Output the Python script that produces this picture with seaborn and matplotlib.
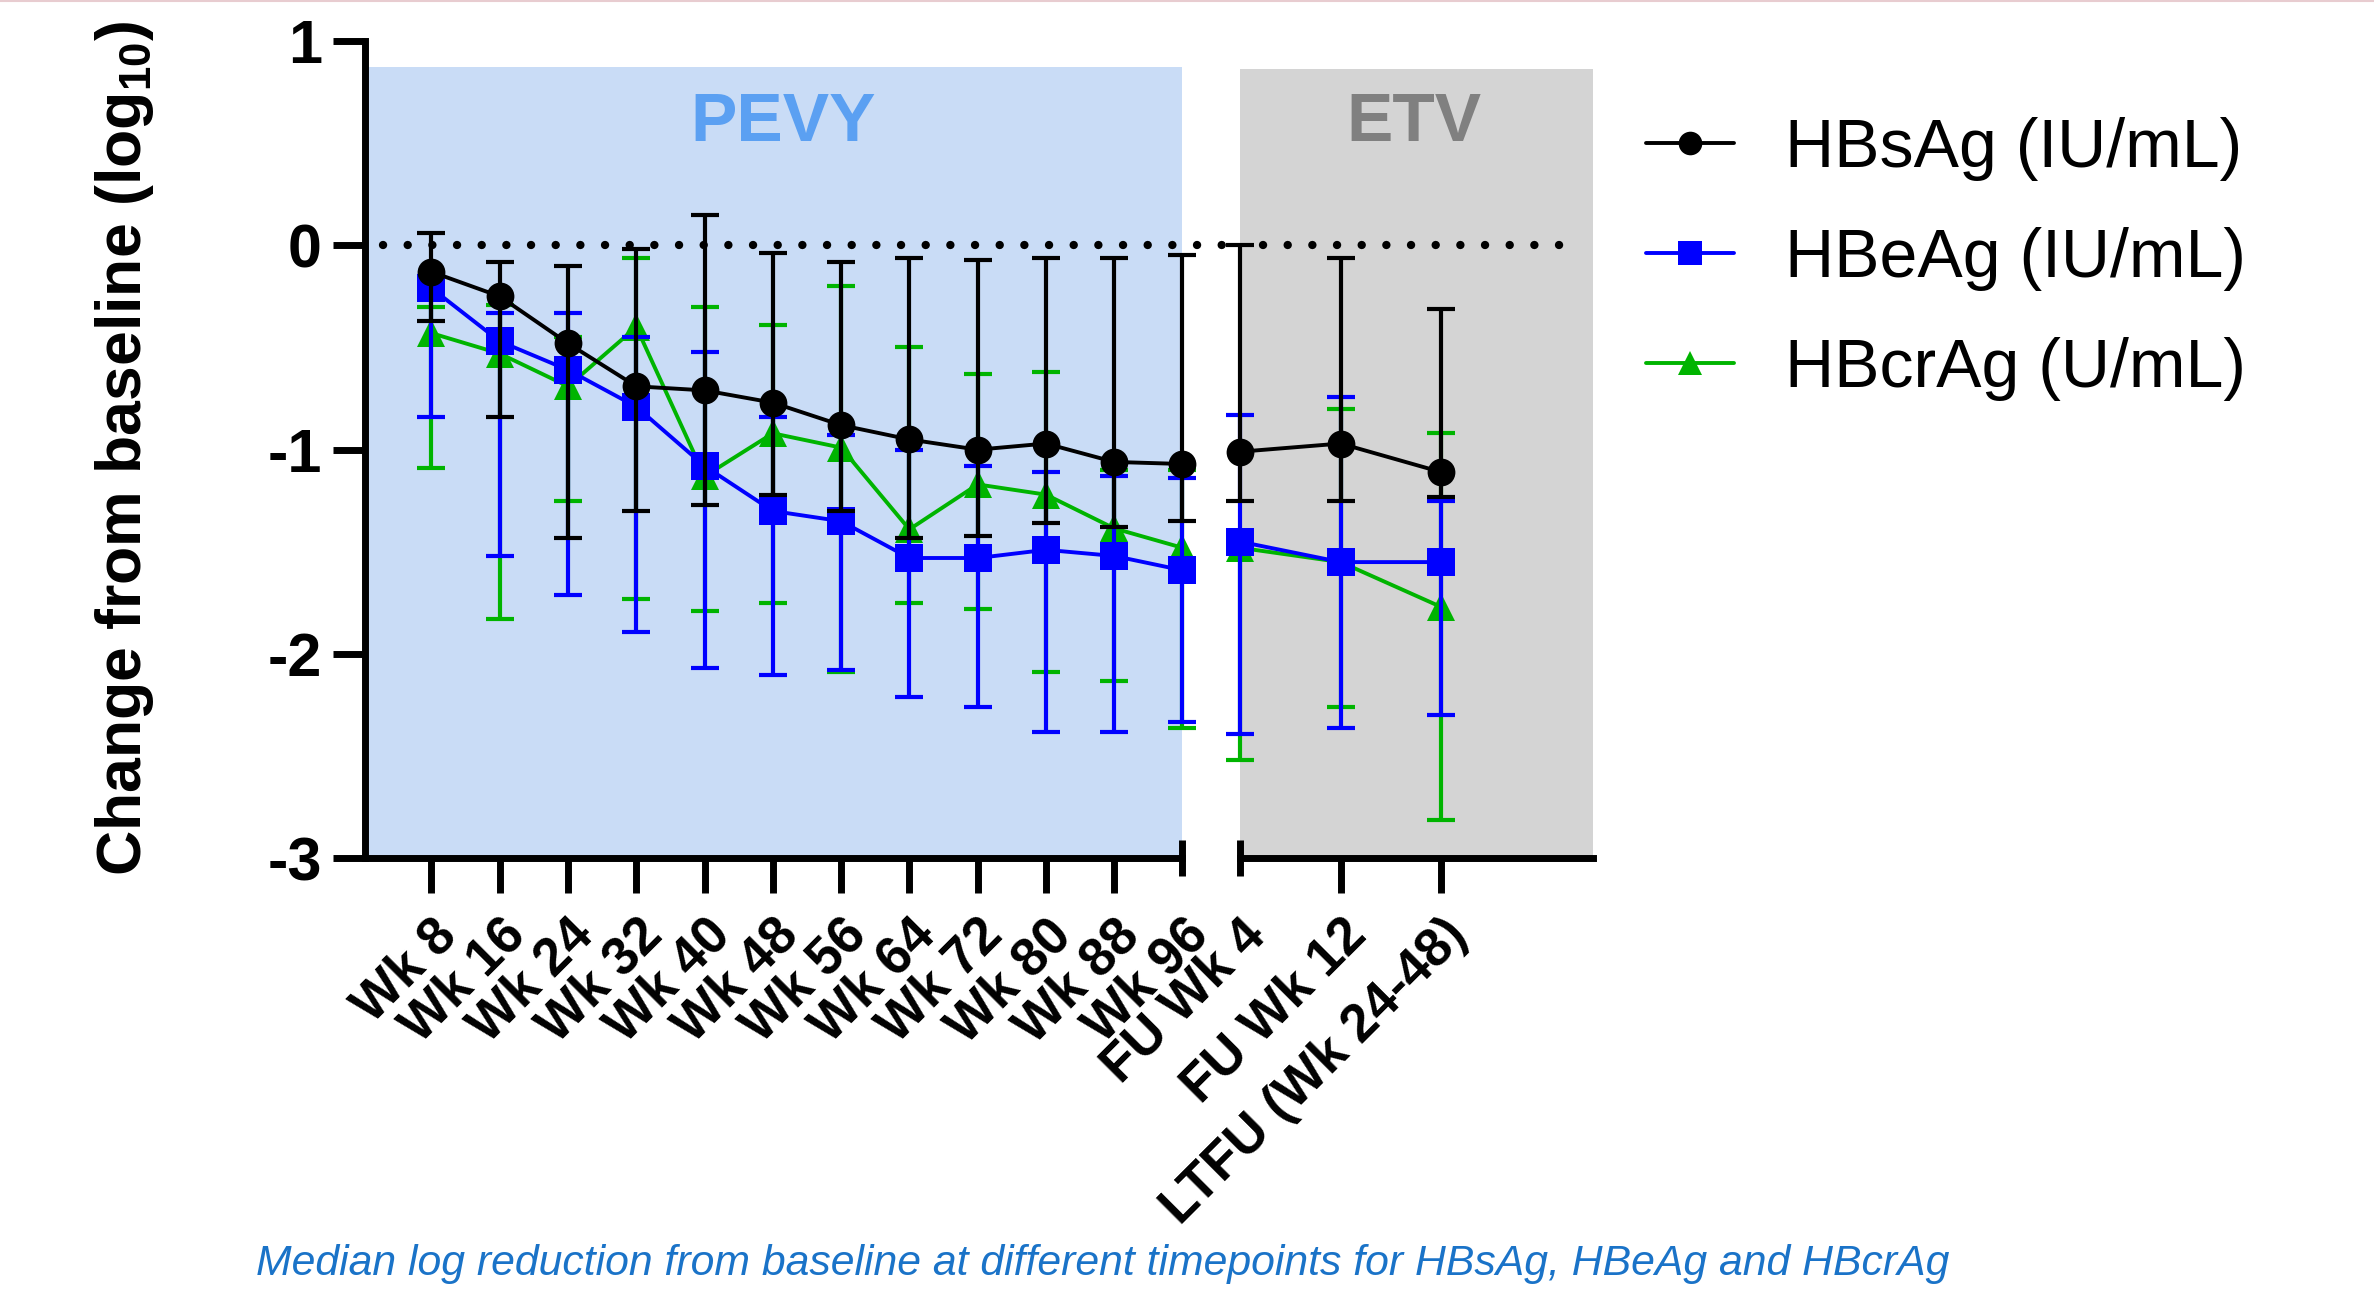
import numpy as np
import pandas as pd
import matplotlib
matplotlib.use("Agg")
import matplotlib.pyplot as plt
import matplotlib.transforms as mtransforms
from matplotlib.lines import Line2D
import seaborn as sns

# ---------------- data ----------------
pevy_labels = ["Wk 8", "Wk 16", "Wk 24", "Wk 32", "Wk 40", "Wk 48",
               "Wk 56", "Wk 64", "Wk 72", "Wk 80", "Wk 88", "Wk 96"]
etv_labels = ["FU Wk 4", "FU Wk 12", "LTFU (Wk 24-48)"]
series_names = ["HBsAg (IU/mL)", "HBeAg (IU/mL)", "HBcrAg (U/mL)"]

hbsag_median = [-0.13, -0.25, -0.48, -0.69, -0.71, -0.77, -0.88, -0.95, -1.00, -0.97, -1.06, -1.07,
                -1.01, -0.97, -1.11]
hbsag_upper = [0.06, -0.08, -0.10, -0.02, 0.15, -0.04, -0.08, -0.06, -0.07, -0.06, -0.06, -0.05,
               0.00, -0.06, -0.31]
hbsag_lower = [-0.37, -0.84, -1.43, -1.30, -1.27, -1.22, -1.30, -1.43, -1.42, -1.36, -1.38, -1.35,
               -1.25, -1.25, -1.23]

hbeag_median = [-0.21, -0.47, -0.61, -0.79, -1.08, -1.30, -1.35, -1.53, -1.53, -1.49, -1.52, -1.59,
                -1.45, -1.55, -1.55]
hbeag_upper = [-0.15, -0.33, -0.33, -0.45, -0.52, -0.84, -0.93, -1.00, -1.08, -1.11, -1.13, -1.14,
               -0.83, -0.74, -1.25]
hbeag_lower = [-0.84, -1.52, -1.71, -1.89, -2.07, -2.10, -2.08, -2.21, -2.26, -2.38, -2.38, -2.33,
               -2.39, -2.36, -2.30]

hbcrag_median = [-0.43, -0.53, -0.69, -0.40, -1.13, -0.92, -0.99, -1.39, -1.17, -1.22, -1.385, -1.48,
                 -1.48, -1.55, -1.77]
hbcrag_upper = [-0.30, -0.29, -0.45, -0.06, -0.30, -0.39, -0.20, -0.50, -0.63, -0.62, -1.10, -1.10,
                -1.46, -0.80, -0.92]
hbcrag_lower = [-1.09, -1.83, -1.25, -1.73, -1.79, -1.75, -2.09, -1.75, -1.78, -2.09, -2.13, -2.36,
                -2.52, -2.26, -2.81]

ytick_values = [-3, -2, -1, 0, 1]
ytick_labels = ["-3", "-2", "-1", "0", "1"]

caption = ("Median log reduction from baseline at different timepoints for "
           "HBsAg, HBeAg and HBcrAg")

# ---------------- long table ----------------
timepoints = pevy_labels + etv_labels
phase = ["PEVY"] * len(pevy_labels) + ["ETV"] * len(etv_labels)
pos = list(range(len(pevy_labels))) + list(range(len(etv_labels)))
rows = []
for name, med, lo, up in [(series_names[0], hbsag_median, hbsag_lower, hbsag_upper),
                          (series_names[1], hbeag_median, hbeag_lower, hbeag_upper),
                          (series_names[2], hbcrag_median, hbcrag_lower, hbcrag_upper)]:
    for i, tp in enumerate(timepoints):
        rows.append(dict(series=name, timepoint=tp, phase=phase[i], pos=pos[i],
                         median=med[i], lower=lo[i], upper=up[i]))
df = pd.DataFrame(rows)

# ---------------- style ----------------
sns.set_theme(style="white")
plt.rcParams["font.family"] = ["Liberation Sans", "DejaVu Sans"]
plt.rcParams["mathtext.fontset"] = "custom"
plt.rcParams["mathtext.rm"] = "Liberation Sans"
plt.rcParams["mathtext.bf"] = "Liberation Sans:bold"
for key in ("text.color", "axes.labelcolor", "xtick.color", "ytick.color", "axes.edgecolor"):
    plt.rcParams[key] = "black"

colors = {series_names[0]: "#000000", series_names[1]: "#0000FF", series_names[2]: "#00B400"}
markers = {series_names[0]: "o", series_names[1]: "s", series_names[2]: "^"}
zorders = {series_names[0]: 6, series_names[1]: 5, series_names[2]: 4}

W, H = 1568.0, 854.0
def fx(px):
    return px / W
def fy(py):
    return 1 - py / H

fig = plt.figure(figsize=(23.74, 12.93), dpi=100)
ax1 = fig.add_axes([fx(241), fy(567), fx(781) - fx(241), fy(27) - fy(567)])
ax2 = fig.add_axes([fx(819), fy(567), fx(1052) - fx(819), fy(27) - fy(567)])
ax1.set_zorder(3)
ax2.set_zorder(2)
for ax in (ax1, ax2):
    ax.set_facecolor("none")

ax1.axhspan(-3, 0.87, color="#C9DCF6", lw=0, zorder=0)
ax2.axhspan(-3, 0.86, color="#D4D4D4", lw=0, zorder=0)

LW = 2.8
for ax, ph in [(ax1, "PEVY"), (ax2, "ETV")]:
    sub = df[df["phase"] == ph]
    for name in series_names:
        s = sub[sub["series"] == name]
        c = colors[name]
        sns.lineplot(data=s, x="pos", y="median", ax=ax, color=c, marker=markers[name],
                     markersize=20, markeredgewidth=0, linewidth=LW, zorder=zorders[name],
                     clip_on=False, legend=False, errorbar=None)
        eb = ax.errorbar(s["pos"], s["median"],
                         yerr=[s["median"] - s["lower"], s["upper"] - s["median"]],
                         fmt="none", ecolor=c, elinewidth=3.0, capsize=10, capthick=3.0,
                         zorder=zorders[name] - 0.5)
        for art in list(eb.lines[1]) + list(eb.lines[2]):
            art.set_clip_on(False)

# dotted zero line
t1 = mtransforms.blended_transform_factory(fig.transFigure, ax1.transData)
t2 = mtransforms.blended_transform_factory(fig.transFigure, ax2.transData)
ax1.plot([fx(253), fx(819)], [0, 0], transform=t1, color="black", lw=6,
         linestyle=(0, (0.01, 2.95)), dash_capstyle="round", clip_on=False, zorder=1)
ax2.plot([fx(834), fx(1042)], [0, 0], transform=t2, color="black", lw=6,
         linestyle=(0, (0.01, 2.95)), dash_capstyle="round", clip_on=False, zorder=1)

# axes limits / spines
ax1.set_xlim(-44 / ((781 - 285) / 11), 11)
ax2.set_xlim(0, (1052 - 819) / 66.5)
for ax in (ax1, ax2):
    ax.set_ylim(-3, 1)
    ax.set_xlabel("")
    ax.set_ylabel("")
    for side in ("top", "right"):
        ax.spines[side].set_visible(False)
    ax.spines["bottom"].set_linewidth(5)
ax1.spines["left"].set_linewidth(5)
ax2.spines["left"].set_visible(False)
ax2.set_yticks([])

ax1.set_yticks(ytick_values)
ax1.set_yticklabels(ytick_labels, fontsize=44, fontweight="bold")
ax1.tick_params(axis="y", direction="out", length=23, width=5, pad=8, left=True)
ax1.set_ylabel(r"Change from baseline (log$_{\mathbf{10}}$)", fontsize=45, fontweight="bold",
               ha="center", va="center")
ax1.yaxis.set_label_coords((82 - 241) / 540, (567 - 296) / 540)

for ax, labels in [(ax1, pevy_labels), (ax2, etv_labels)]:
    ax.set_xticks(range(len(labels)))
    ax.set_xticklabels(labels, rotation=45, ha="right", va="top", rotation_mode="anchor",
                       fontsize=38, fontweight="bold")
    ax.tick_params(axis="x", direction="out", length=25, width=5, pad=12, bottom=True)

# break marks at the segment ends
tk = ax1.xaxis.get_major_ticks()[-1]
tk.tick1line.set_marker("|")
tk.tick1line.set_markersize(26)
tk = ax2.xaxis.get_major_ticks()[0]
tk.tick1line.set_marker("|")
tk.tick1line.set_markersize(26)

# phase headers
fig.text(fx(517), fy(81), "PEVY", fontsize=50, fontweight="bold", color="#5BA0F2",
         ha="center", va="center")
fig.text(fx(934), fy(81), "ETV", fontsize=50, fontweight="bold", color="#808080",
         ha="center", va="center")

# legend
handles = [Line2D([], [], color=colors[n], marker=markers[n], markersize=17,
                  markeredgewidth=0, lw=2.8) for n in series_names]
fig.legend(handles, series_names, loc="upper left", bbox_to_anchor=(fx(1087), fy(77)),
           frameon=False, fontsize=49, handlelength=1.3, handletextpad=0.75,
           labelspacing=0.68, borderaxespad=0, borderpad=0)

fig.text(fx(728), fy(835), caption, fontsize=30.8, style="italic", color="#1A73C8",
         ha="center", va="center")

fig.add_artist(Line2D([0, 1], [0.9992, 0.9992], transform=fig.transFigure,
                      color="#E8CCD0", lw=1.5))

fig.savefig("out.png", dpi=100)
